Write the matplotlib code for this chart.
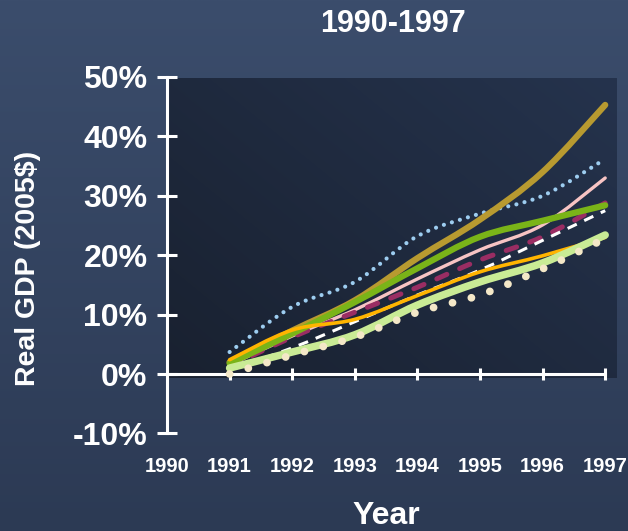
import numpy as np
import matplotlib
matplotlib.use("Agg")
import matplotlib.pyplot as plt
from matplotlib.path import Path
from matplotlib.patches import PathPatch

plt.rcParams['font.family'] = ['Liberation Sans', 'DejaVu Sans']
plt.rcParams['font.weight'] = 'bold'

# ---- data: cumulative growth of real GDP since 1991 (%) ----
years = [1991, 1992, 1993, 1994, 1995, 1996, 1997]
year_labels = ["1990", "1991", "1992", "1993", "1994", "1995", "1996", "1997"]
y_ticks = [-10, 0, 10, 20, 30, 40, 50]

gold = [2.0, 7.3, 12.4, 19.5, 26.0, 34.0, 45.3]
sky_dotted = [3.7, 11.3, 15.5, 23.2, 27.0, 30.0, 36.2]
pink = [1.5, 6.4, 10.8, 16.0, 20.9, 25.1, 33.0]
green = [1.8, 6.8, 12.1, 17.8, 23.1, 25.8, 28.4]
plum_dashed = [1.3, 6.2, 10.4, 14.6, 19.2, 23.1, 28.8]
white_dashed = [0.7, 4.4, 8.8, 13.3, 17.5, 22.5, 27.5]
amber = [2.4, 7.4, 9.2, 13.2, 17.2, 19.9, 23.0]
lime = [1.0, 3.7, 6.6, 11.6, 15.5, 18.7, 23.4]
cream_dotted = [0.0, 3.2, 6.2, 10.4, 13.3, 17.7, 22.8]

W, H = 628, 531
fig = plt.figure(figsize=(W / 100, H / 100), dpi=100)

# slide-style vertical gradient background
bg = fig.add_axes([0, 0, 1, 1], zorder=-10)
top = np.array([0x3b, 0x4d, 0x6c]) / 255
bot = np.array([0x2c, 0x3a, 0x54]) / 255
t = np.linspace(0, 1, 256)[:, None]
grad = top[None, :] * (1 - t) + bot[None, :] * t
bg.imshow(grad[:, None, :].repeat(2, axis=1), aspect='auto', extent=[0, 1, 0, 1])
bg.set_axis_off()

# main axes (pixel geometry)
px_per_pct = 5.94
px_per_year = 62.6
ylo, yhi = -12, 52
xlo, xhi = 1990, 1997.2
ax_h = (yhi - ylo) * px_per_pct
ax_top = 77 - (yhi - 50) * px_per_pct
ax_w = (xhi - xlo) * px_per_year
ax = fig.add_axes([167 / W, 1 - (ax_top + ax_h) / H, ax_w / W, ax_h / H])
ax.set_facecolor('none')

# dark plot-area panel
c1 = np.array([0x19, 0x21, 0x30]) / 255
c2 = np.array([0x25, 0x33, 0x4d]) / 255
gx = np.linspace(0, 1, 200)[None, :]
gy = np.linspace(1, 0, 200)[:, None]
mix = np.clip(0.55 * gx + 0.45 * gy, 0, 1)[..., None]
panel = c1 * (1 - mix) + c2 * mix
ax.imshow(panel, aspect='auto', extent=[1990.02, 1997.18, -0.7, 49.8], zorder=0,
          interpolation='bilinear')


def smooth_path(xs, ys):
    """Bezier path through the points (Catmull-Rom style smoothing)."""
    pts = np.column_stack([xs, ys]).astype(float)
    n = len(pts)
    verts = [pts[0]]
    codes = [Path.MOVETO]
    for i in range(n - 1):
        p0 = pts[i - 1] if i > 0 else pts[i]
        p1 = pts[i]
        p2 = pts[i + 1]
        p3 = pts[i + 2] if i + 2 < n else pts[i + 1]
        c1_ = p1 + (p2 - p0) / 6.0
        c2_ = p2 - (p3 - p1) / 6.0
        verts += [c1_, c2_, p2]
        codes += [Path.CURVE4] * 3
    return Path(verts, codes)


def draw(values, color, lw, ls='-', cap='round', z=3):
    patch = PathPatch(smooth_path(years, values), facecolor='none', edgecolor=color,
                      linewidth=lw, linestyle=ls, capstyle=cap, joinstyle='round',
                      zorder=z)
    ax.add_patch(patch)


draw(sky_dotted, '#9dcdf0', 3.0, (0, (0.01, 2.0)), 'round', 3)
draw(pink, '#f7c4c4', 2.4, '-', 'round', 4)
draw(plum_dashed, '#9a2d63', 3.6, (0, (2.2, 2.8)), 'round', 5)
draw(white_dashed, '#ffffff', 2.2, (0, (3.3, 2.7)), 'butt', 6)
draw(gold, '#b89a30', 4.5, '-', 'round', 7)
draw(green, '#7ab418', 4.5, '-', 'round', 8)
draw(amber, '#ffb400', 2.6, '-', 'round', 9)
draw(lime, '#c9eb95', 5.4, '-', 'round', 10)
draw(cream_dotted, '#f4e8c8', 5.6, (0, (0.01, 2.5)), 'round', 11)

ax.set_xlim(xlo, xhi)
ax.set_ylim(ylo, yhi)

for s in ['top', 'right']:
    ax.spines[s].set_visible(False)
ax.spines['left'].set_color('white')
ax.spines['left'].set_linewidth(2.2)
ax.spines['left'].set_bounds(-10, 50)
ax.spines['left'].set_zorder(12)
ax.spines['bottom'].set_position(('data', 0))
ax.spines['bottom'].set_color('white')
ax.spines['bottom'].set_linewidth(2.2)
ax.spines['bottom'].set_bounds(1990, 1997)
ax.spines['bottom'].set_zorder(2)

ax.set_yticks(y_ticks)
ax.set_yticklabels([f"{v}%" for v in y_ticks])
ax.tick_params(axis='y', direction='inout', length=14, width=2.2, colors='white',
               labelsize=23, pad=7)
ax.set_xticks(years)
ax.set_xticklabels([])
ax.tick_params(axis='x', direction='inout', length=9, width=2.2, colors='white')

for i, lab in enumerate(year_labels):
    ax.text(1990 + i, -15.5, lab, ha='center', va='center', color='white',
            fontsize=14.5, fontweight='bold', clip_on=False)

fig.text(393 / W, 1 - 24 / H, "1990-1997", ha='center', va='center', color='white',
         fontsize=22, fontweight='bold')
fig.text(386 / W, 1 - 516 / H, "Year", ha='center', va='center', color='white',
         fontsize=23, fontweight='bold')
fig.text(28 / W, 1 - 268 / H, "Real GDP (2005$)", ha='center', va='center',
         color='white', fontsize=20.5, fontweight='bold', rotation=90)

fig.savefig("out.png", dpi=100)
